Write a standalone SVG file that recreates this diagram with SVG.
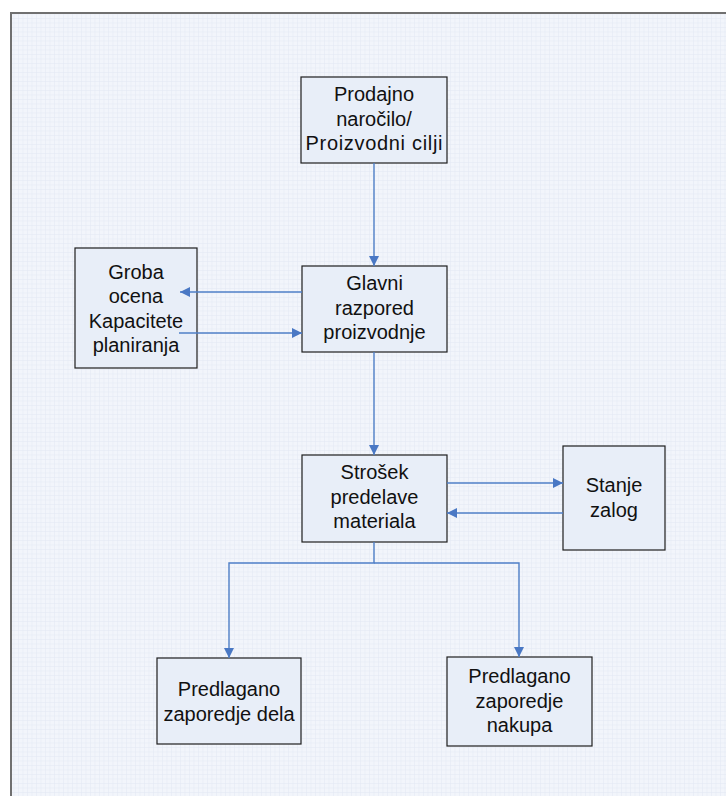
<svg xmlns="http://www.w3.org/2000/svg" width="726" height="796" viewBox="0 0 726 796">
  <style>
    .box { fill: #e8eef8; stroke: #1e1e1e; stroke-width: 1.2; }
    .lbl { font-family: "Liberation Sans", Arial, sans-serif; font-size: 20px; fill: #111; text-anchor: middle; }
    .link { fill: none; stroke: #4f7fc7; stroke-width: 1.4; }
  </style>
  <defs>
    <pattern id="grid" width="4.5" height="4.5" patternUnits="userSpaceOnUse">
      <rect width="4.5" height="4.5" fill="#f2f5fb"/>
      <path d="M0 0 H4.5 M0 0 V4.5" stroke="#dfe6f2" stroke-width="0.8"/>
    </pattern>
    <marker id="arrow" viewBox="0 0 10 10" refX="10" refY="5" markerWidth="11" markerHeight="10" markerUnits="userSpaceOnUse" orient="auto">
      <path d="M0 0 L10 5 L0 10 Z" fill="#4a78c4"/>
    </marker>
  </defs>

  <!-- page -->
  <rect width="726" height="796" fill="#ffffff"/>
  <rect x="11" y="13" width="715" height="783" fill="url(#grid)"/>
  <path d="M11 796 V13 H726" fill="none" stroke="#707070" stroke-width="2"/>

  <g id="prodajno">
    <rect class="box" x="301" y="77" width="146" height="86"/>
    <text class="lbl" x="374" y="101">Prodajno</text>
    <text class="lbl" x="374" y="125.5">naročilo/</text>
    <text class="lbl" x="374" y="150" textLength="137" lengthAdjust="spacing">Proizvodni cilji</text>
  </g>

  <g id="glavni">
    <rect class="box" x="302" y="266" width="145" height="86"/>
    <text class="lbl" x="374.5" y="290">Glavni</text>
    <text class="lbl" x="374.5" y="314.5">razpored</text>
    <text class="lbl" x="374.5" y="339">proizvodnje</text>
  </g>

  <g id="groba">
    <rect class="box" x="75" y="248" width="122" height="120"/>
    <text class="lbl" x="136" y="279">Groba</text>
    <text class="lbl" x="136" y="303">ocena</text>
    <text class="lbl" x="136" y="327.5">Kapacitete</text>
    <text class="lbl" x="136" y="352">planiranja</text>
  </g>

  <g id="strosek">
    <rect class="box" x="302" y="455" width="145" height="87"/>
    <text class="lbl" x="374.5" y="479">Strošek</text>
    <text class="lbl" x="374.5" y="503.5">predelave</text>
    <text class="lbl" x="374.5" y="528">materiala</text>
  </g>

  <g id="stanje">
    <rect class="box" x="563" y="446" width="102" height="104"/>
    <text class="lbl" x="614" y="492">Stanje</text>
    <text class="lbl" x="614" y="516.5">zalog</text>
  </g>

  <g id="predlagano-dela">
    <rect class="box" x="157" y="658" width="144" height="86"/>
    <text class="lbl" x="229" y="696">Predlagano</text>
    <text class="lbl" x="229" y="720.5">zaporedje dela</text>
  </g>

  <g id="predlagano-nakupa">
    <rect class="box" x="447" y="657" width="145" height="89"/>
    <text class="lbl" x="519.5" y="683">Predlagano</text>
    <text class="lbl" x="519.5" y="707.5">zaporedje</text>
    <text class="lbl" x="519.5" y="732">nakupa</text>
  </g>

  <!-- connectors, drawn over the boxes -->
  <g id="connectors">
    <path class="link" d="M374 163 V266" marker-end="url(#arrow)"/>
    <path class="link" d="M302 292 H180" marker-end="url(#arrow)"/>
    <path class="link" d="M179 333 H302" marker-end="url(#arrow)"/>
    <path class="link" d="M374 352 V455" marker-end="url(#arrow)"/>
    <path class="link" d="M447 483 H563" marker-end="url(#arrow)"/>
    <path class="link" d="M563 513 H447" marker-end="url(#arrow)"/>
    <path class="link" d="M374 542 V563 H229 V658" marker-end="url(#arrow)"/>
    <path class="link" d="M374 563 H519 V657" marker-end="url(#arrow)"/>
  </g>
</svg>
